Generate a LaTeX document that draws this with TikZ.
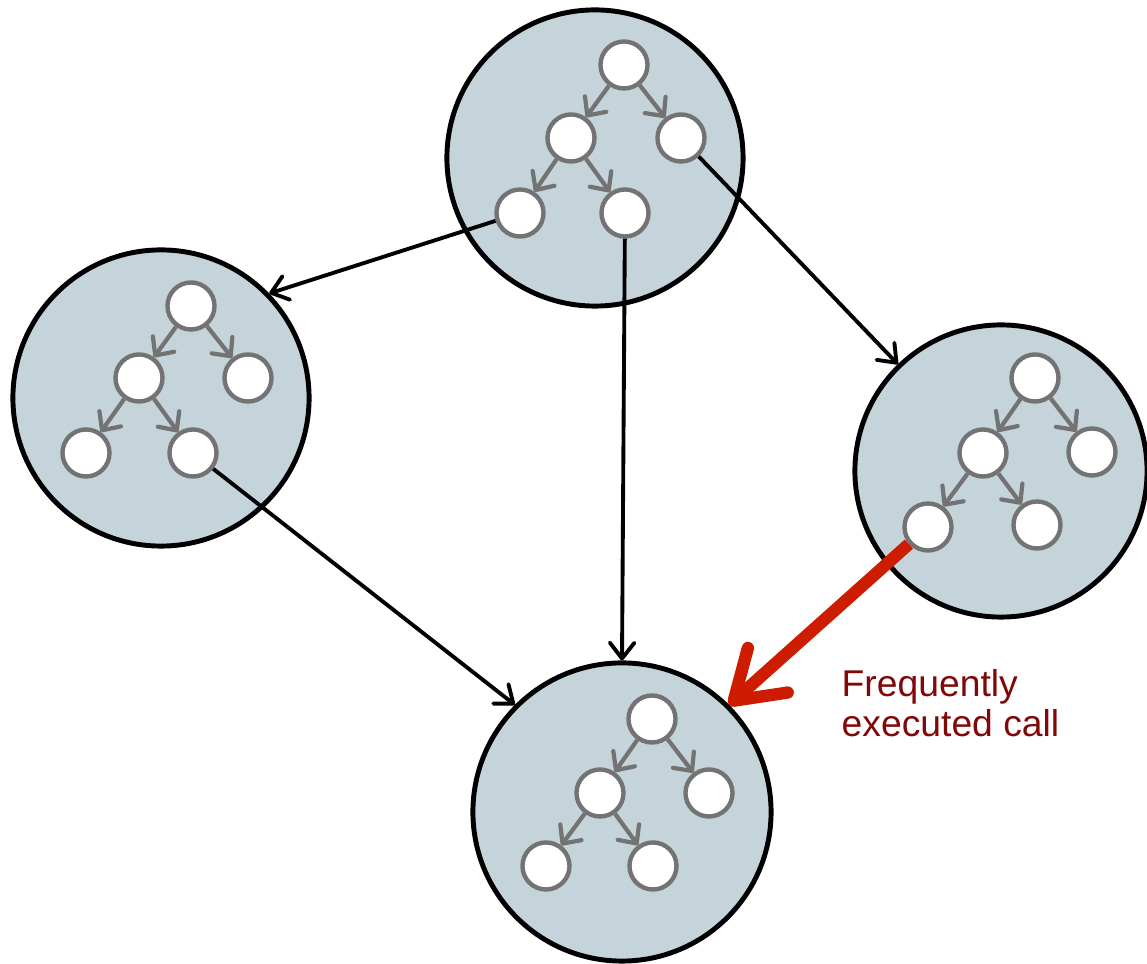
\documentclass[tikz,border=0pt]{standalone}
\usepackage{fontspec}
\setmainfont{Liberation Sans}
\usetikzlibrary{arrows.meta, positioning}
\definecolor{clusterfill}{RGB}{197,211,218}
\definecolor{nodegray}{RGB}{115,115,115}
\definecolor{hotred}{RGB}{206,28,0}
\definecolor{labelred}{RGB}{128,8,8}

\begin{document}
\begin{tikzpicture}[
    x=0.01cm, y=-0.01cm,
    cluster/.style={circle, draw, line width=1.4pt, fill=clusterfill,
                    minimum size=2.96cm, inner sep=0pt},
    fn/.style={circle, draw=nodegray, line width=1.25pt, fill=white,
               minimum size=0.47cm, inner sep=0pt},
    sub/.style={-{Straight Barb[length=4pt, width=7.5pt, round]}, draw=nodegray, line width=1.2pt},
    arr/.style={-{Straight Barb[length=4.5pt, width=7pt, round]}, line width=1.1pt},
    hot/.style={-{Straight Barb[length=13pt, width=17pt, round]}, draw=hotred, line width=3.5pt},
    note/.style={font=\fontsize{10.6}{11.4}\selectfont, text=labelred, align=left, inner sep=0pt},
  ]
    \useasboundingbox (0,0) rectangle (1147,964);

    % clusters
    \node[cluster] (T) at (595,158) {};
    \node[cluster] (L) at (161,398) {};
    \node[cluster, minimum size=2.92cm] (R) at (1001,471) {};
    \node[cluster, minimum size=2.98cm] (B) at (622,812) {};

    % top cluster
    \node[fn] (T1) at (624,65) {};
    \node[fn] (T2) at (571,138) {};
    \node[fn] (T3) at (681,138) {};
    \node[fn] (T4) at (520,213) {};
    \node[fn] (T5) at (625,213) {};
    \draw[sub] (T1) -- (T2);
    \draw[sub] (T1) -- (T3);
    \draw[sub] (T2) -- (T4);
    \draw[sub] (T2) -- (T5);

    % left cluster
    \node[fn] (L1) at (191,306) {};
    \node[fn] (L2) at (139,378) {};
    \node[fn] (L3) at (248,378) {};
    \node[fn] (L4) at (86,453) {};
    \node[fn] (L5) at (193,453) {};
    \draw[sub] (L1) -- (L2);
    \draw[sub] (L1) -- (L3);
    \draw[sub] (L2) -- (L4);
    \draw[sub] (L2) -- (L5);

    % right cluster
    \node[fn] (R1) at (1035,378) {};
    \node[fn] (R2) at (983,453) {};
    \node[fn] (R3) at (1092,452) {};
    \node[fn] (R4) at (928,527) {};
    \node[fn] (R5) at (1037,525) {};
    \draw[sub] (R1) -- (R2);
    \draw[sub] (R1) -- (R3);
    \draw[sub] (R2) -- (R4);
    \draw[sub] (R2) -- (R5);

    % bottom cluster
    \node[fn] (B1) at (652,719) {};
    \node[fn] (B2) at (600,793) {};
    \node[fn] (B3) at (709,793) {};
    \node[fn] (B4) at (546,866) {};
    \node[fn] (B5) at (653,866) {};
    \draw[sub] (B1) -- (B2);
    \draw[sub] (B1) -- (B3);
    \draw[sub] (B2) -- (B4);
    \draw[sub] (B2) -- (B5);

    % calls between clusters
    \draw[arr] (T4) -- (L.44);
    \draw[arr] (T3) -- (R.134);
    \draw[arr] (T5) -- (B.90);
    \draw[arr] (L5) -- (B.135);
    \draw[hot] (R4) -- (B.45);

    \node[note, anchor=north west] (lbl) at (841,669) {Frequently\\executed call};
  \end{tikzpicture}
\end{document}
